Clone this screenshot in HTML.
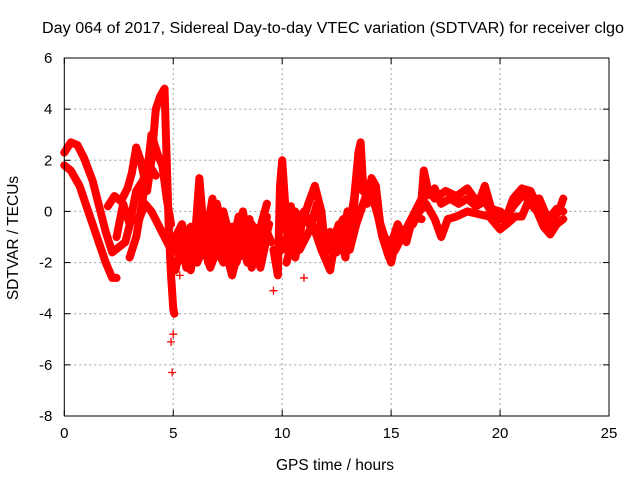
<!DOCTYPE html>
<html><head><meta charset="utf-8"><style>
html,body{margin:0;padding:0;background:#fff;}
svg{display:block;font-family:"Liberation Sans",sans-serif;}
</style></head><body>
<svg id="chart" width="640" height="480" viewBox="0 0 640 480">
<text x="333" y="33" font-size="15.5" text-anchor="middle" textLength="582" lengthAdjust="spacingAndGlyphs" fill="#000">Day 064 of 2017, Sidereal Day-to-day VTEC variation (SDTVAR) for receiver clgo</text>
<text x="335" y="470" font-size="15.5" text-anchor="middle" fill="#000">GPS time / hours</text>
<text transform="translate(18,238) rotate(-90)" font-size="15.5" text-anchor="middle" fill="#000">SDTVAR / TECUs</text>
<g id="grid"></g>
<g id="ticks"></g>
<g id="marks"></g>
<rect x="64.3" y="58" width="544.7" height="358" fill="none" stroke="#000" stroke-width="1"/>
</svg>
<script>
const xTicks=[0,5,10,15,20,25];
const yTicks=[6,4,2,0,-2,-4,-6,-8];
const t1=[0,0.3,0.7,1.1,1.5,1.9,2.2,2.4];
const v1=[1.8,1.6,1.0,0.0,-1.0,-2.0,-2.6,-2.6];
const t2=[0,0.3,0.6,0.9,1.3,1.6,1.9,2.2,2.5,2.8,3.1,3.4,3.7,4.0,4.3,4.6,4.9,5.2];
const v2=[2.3,2.7,2.6,2.1,1.2,0.2,-0.8,-1.6,-1.4,-1.2,-0.2,-0.4,0.3,0.0,-0.5,-1.0,-1.5,-1.2];
const t3=[2.0,2.3,2.6,2.9,3.1,3.3,3.5,3.8,4.0,4.2,4.4,4.6,4.7,4.8,4.9,5.0,5.05];
const v3=[0.2,0.6,0.4,0.9,1.5,2.5,2.0,0.8,2.0,4.0,4.5,4.8,2.0,-0.8,-2.5,-3.8,-4.0];
const t4=[3.0,3.3,3.6,3.8,4.0,4.3,4.5,4.7,4.9];
const v4=[-1.8,-1.0,0.5,1.5,3.0,2.2,1.8,0.5,-0.5];
const t5=[5.1,5.4,5.7,6.0,6.2,6.4,6.7,7.0,7.2,7.5,7.8,8.0,8.3,8.6,8.9,9.1,9.3];
const v5=[-1.0,-0.5,-1.8,-1.0,1.3,-0.8,-1.5,0.3,-0.5,-1.8,-1.0,-0.2,-0.8,-2.2,-1.0,-0.3,0.3];
const t6=[5.2,5.5,5.8,6.1,6.5,6.8,7.1,7.4,7.7,8.0,8.2,8.5,8.8,9.0,9.3];
const v6=[-2.0,-1.5,-2.3,-0.8,-1.0,0.5,-1.2,-1.5,-2.5,-1.5,0.0,-1.5,-1.3,-2.2,-1.0];
const t7=[9.6,9.7,9.8,9.9,10.0,10.2,10.4,10.6,10.9];
const v7=[-1.5,-2.0,-2.5,1.0,2.0,-0.5,0.2,-1.8,-0.5];
const t8=[10.0,10.3,10.6,10.9,11.2,11.5,11.8,12.0,12.3,12.6,12.9,13.1,13.3,13.5,13.6,13.7,13.9,14.1,14.3,14.5,14.8,15.0,15.2,15.5,15.8,16.1,16.4,16.5,16.7,17.0,17.5,18.0,18.5,19.0,19.3,19.6,20.0,20.3,20.6,21.0,21.4,21.8,22.1,22.4,22.7,22.9];
const v8=[-1.5,-0.8,0.0,-0.5,0.3,1.0,0.0,-1.6,-1.2,-0.5,-1.8,-0.5,0.5,2.3,2.7,1.2,0.3,1.3,1.0,-0.5,-1.5,-2.0,-1.2,-1.0,-0.5,0.0,0.5,1.6,0.8,0.5,0.8,0.6,0.9,0.3,1.0,0.1,0.0,-0.2,0.5,0.9,0.8,0.0,-0.6,-0.3,0.0,0.5];
const t9=[10.2,10.5,10.8,11.1,11.4,11.8,12.2,12.5,12.8,13.1,13.4,13.8,14.0,14.3,14.6,14.9,15.2,15.6,16.0,16.3,16.6,17.0,17.3,17.6,18.0,18.5,19.0,19.5,20.0,20.3,20.7,21.0,21.3,21.7,22.0,22.3,22.6,22.9];
const v9=[-2.0,-1.0,-1.5,-1.0,-0.5,-1.5,-2.3,-0.8,-0.3,-1.5,-0.5,0.5,0.8,0.2,-1.0,-1.8,-1.5,-0.8,-0.5,0.0,0.3,-0.3,-1.0,-0.3,-0.2,0.0,-0.1,-0.2,-0.7,-0.5,-0.2,-0.2,0.4,0.0,-0.6,-0.9,-0.5,-0.3];
const t10=[5.0,5.3,5.6,5.9,6.2,6.5,6.8,7.1,7.4,7.7,8.0,8.3,8.6,8.9,9.2,9.5];
const v10=[-1.3,-1.8,-1.0,-1.6,-1.2,-0.3,-1.8,-0.8,-1.2,-0.6,-1.8,-1.0,-0.5,-1.6,-0.6,-1.2];
const t11=[5.3,5.6,5.9,6.3,6.6,6.9,7.3,7.6,7.9,8.2,8.5,8.8,9.1,9.4];
const v11=[-0.8,-2.2,-1.5,-0.3,-2.0,-1.0,0.0,-1.0,-2.0,-1.2,-0.3,-2.0,-1.5,-0.5];
const t12=[10.1,10.4,10.7,11.0,11.3,11.6,11.9,12.2,12.5,12.8,13.0,13.2,13.4,13.7,14.0,14.2,14.4,14.7,15.0,15.3,15.7,16.0,16.4];
const v12=[-0.5,-1.3,-0.8,0.0,-0.6,0.3,-1.0,-0.8,-1.6,-1.0,0.0,-0.8,1.2,0.8,1.0,0.4,-0.2,-1.0,-1.3,-0.5,-1.2,-0.2,-0.3];
const t13=[16.6,17.0,17.3,17.7,18.1,18.5,18.9,19.3,19.8,20.2,20.6,21.0,21.4,21.8,22.2,22.6,22.9];
const v13=[0.6,0.9,0.3,0.5,0.3,0.5,0.2,0.4,-0.3,-0.3,0.2,0.6,0.5,0.5,-0.3,0.1,0.0];
const t14=[5.1,5.4,5.8,6.1,6.4,6.7,7.0,7.3,7.6,8.0,8.4,8.7,9.0,9.3];
const v14=[-2.3,-1.2,-0.6,-2.0,-1.4,-2.2,-1.5,-2.0,-1.3,-0.8,-2.0,-0.6,-1.8,-0.2];
const t15=[2.4,2.7,3.0,3.3,3.6,3.9,4.2];
const v15=[-1.0,0.3,-0.5,0.8,1.2,1.8,1.4];
const outT=[4.9,5.0,4.95,5.3,11.0,9.6];
const outV=[-5.1,-4.8,-6.3,-2.5,-2.6,-3.1];
const tracksT=[t1,t2,t3,t4,t5,t6,t7,t8,t9,t10,t11,t12,t13,t14,t15];
const tracksV=[v1,v2,v3,v4,v5,v6,v7,v8,v9,v10,v11,v12,v13,v14,v15];

const X0=64.3,X1=609,Y0=58,Y1=416,xMin=0,xMax=25,yMin=-8,yMax=6;
const xs=v=>X0+(v-xMin)/(xMax-xMin)*(X1-X0);
const ys=v=>Y1-(v-yMin)/(yMax-yMin)*(Y1-Y0);
const NS='http://www.w3.org/2000/svg';
function mk(tag,attrs,parent){const e=document.createElementNS(NS,tag);for(const k in attrs)e.setAttribute(k,attrs[k]);parent.appendChild(e);return e;}
const grid=document.getElementById('grid'),ticks=document.getElementById('ticks'),marks=document.getElementById('marks');
xTicks.forEach(t=>{const x=xs(t);
 if(t>xMin&&t<xMax){const g=mk('line',{x1:x,x2:x,y1:Y0,y2:Y1,stroke:'#a0a0a0','stroke-dasharray':'2,3'},grid);
 
 }
 mk('line',{x1:x,x2:x,y1:Y1,y2:Y1-6,stroke:'#000'},ticks);
 mk('line',{x1:x,x2:x,y1:Y0,y2:Y0+6,stroke:'#000'},ticks);
 const l=mk('text',{x:x,y:Y1+22,'font-size':15,'text-anchor':'middle'},ticks);l.textContent=t;
 
 });
yTicks.forEach(t=>{const y=ys(t);
 if(t>yMin&&t<yMax){const g=mk('line',{x1:X0,x2:X1,y1:y,y2:y,stroke:'#a0a0a0','stroke-dasharray':'2,3'},grid);
 
 }
 mk('line',{x1:X0,x2:X0+6,y1:y,y2:y,stroke:'#000'},ticks);
 mk('line',{x1:X1,x2:X1-6,y1:y,y2:y,stroke:'#000'},ticks);
 const l=mk('text',{x:X0-12,y:y+5,'font-size':15,'text-anchor':'end'},ticks);l.textContent=t;
 
 });
function plus(x,y){const p=mk('path',{d:`M${x-4},${y}h8M${x},${y-4}v8`,stroke:'#ff0000','stroke-width':1.3,fill:'none'},marks);
 
 }
tracksT.forEach((T,i)=>{const V=tracksV[i];
 const pts=T.map((t,j)=>xs(t)+','+ys(V[j])).join(' ');
 const pl=mk('polyline',{points:pts,fill:'none',stroke:'#ff0000','stroke-width':8,'stroke-linejoin':'round','stroke-linecap':'round'},marks);
 
 
 T.forEach((t,j)=>plus(xs(t),ys(V[j])));});
outT.forEach((t,j)=>plus(xs(t),ys(outV[j])));
</script>
</body></html>
